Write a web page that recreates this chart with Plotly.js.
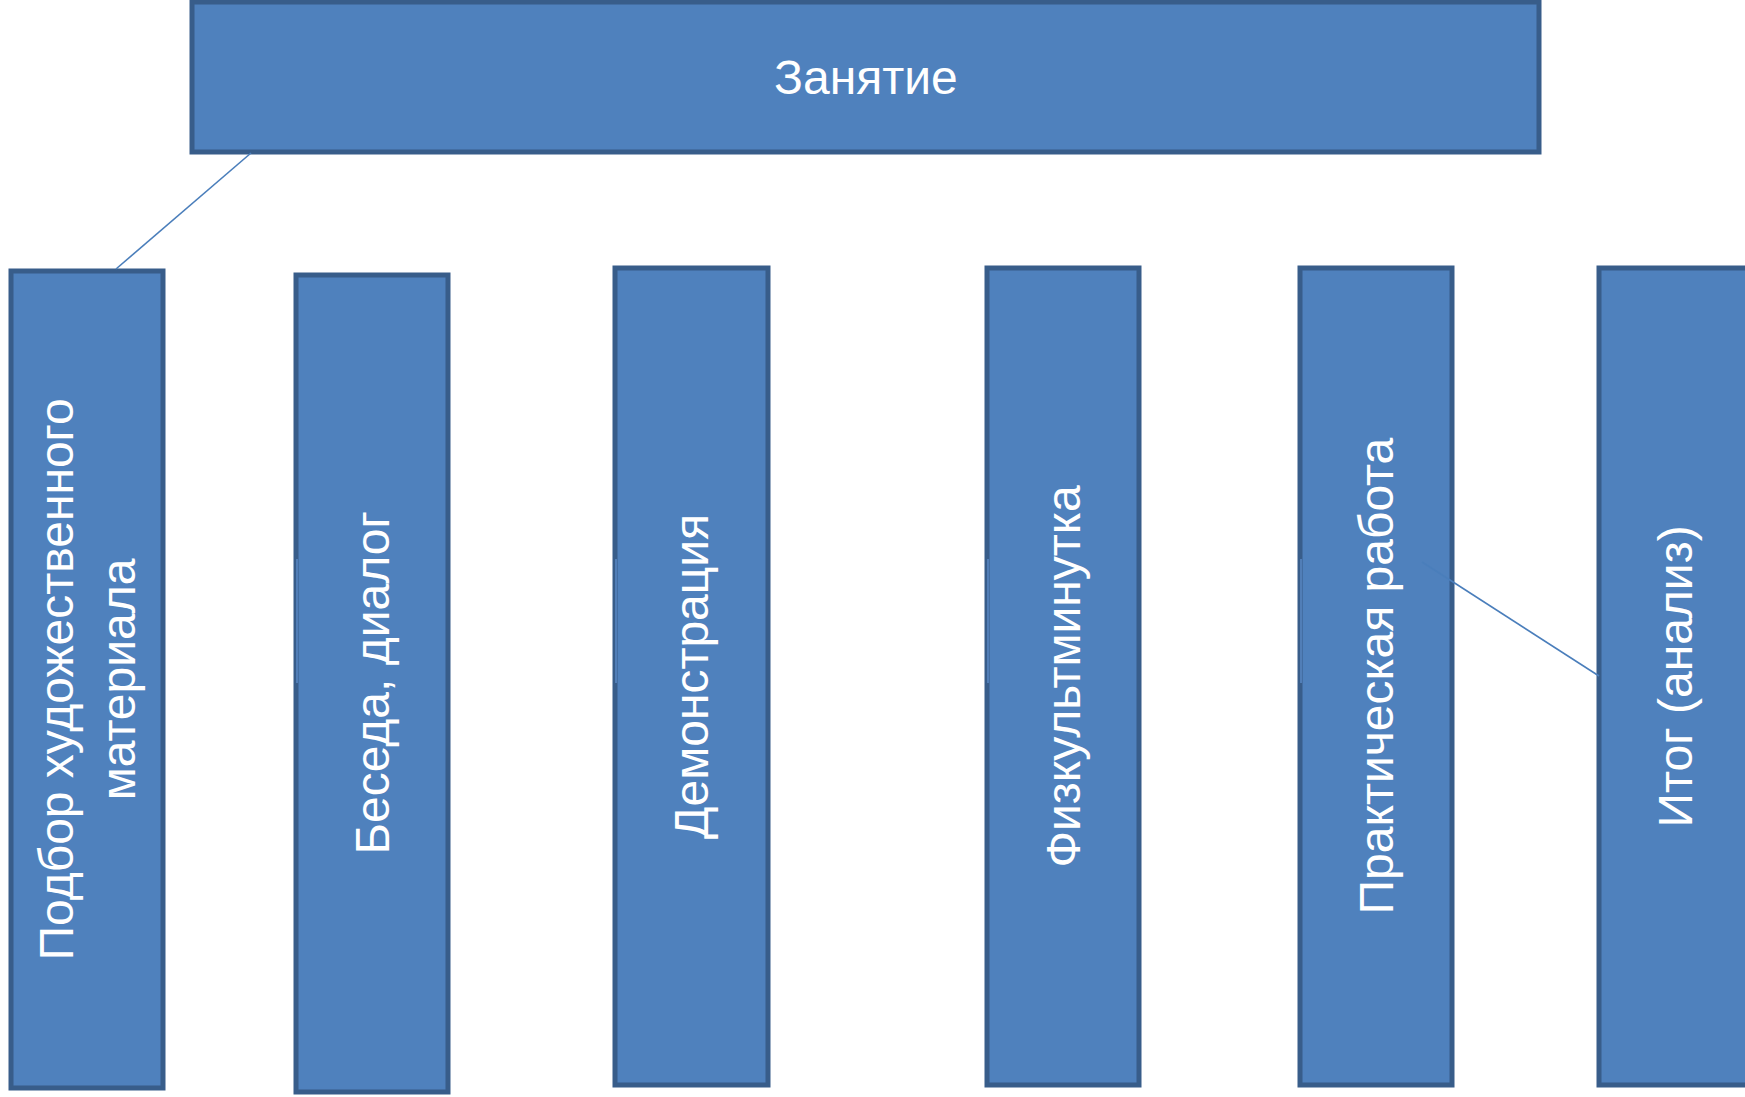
<!DOCTYPE html>
<html>
<head>
<meta charset="utf-8">
<script src="https://cdn.plot.ly/plotly-3.0.1.min.js"></script>
<style>
  html, body { margin: 0; padding: 0; background: #ffffff; }
  #chart { width: 1745px; height: 1097px; }
</style>
</head>
<body>
<div id="chart"></div>
<script>
// Diagram data (pixel-space units of the 1745x1097 canvas)
const boxLabels = [
  "Занятие",
  "Подбор художественного<br>материала",
  "Беседа, диалог",
  "Демонстрация",
  "Физкультминутка",
  "Практическая работа",
  "Итог (анализ)"
];
const boxLeft   = [192, 11, 296, 615, 987, 1300, 1599];
const boxRight  = [1539, 163, 448, 768, 1139, 1452, 1751];
const boxTop    = [2, 271, 275, 268, 268, 268, 268];
const boxBottom = [152, 1088, 1092, 1085, 1085, 1085, 1085];
const textAngle = [0, -90, -90, -90, -90, -90, -90];

const connector1X = [251, 116];
const connector1Y = [153, 269];
const connector2X = [1422, 1599];
const connector2Y = [562, 676];

// faint connector stubs on the left borders of the middle boxes
const stubX = [297, 297, null, 616, 616, null, 988, 988, null, 1301, 1301];
const stubY = [559, 683, null, 559, 683, null, 559, 683, null, 559, 683];

const centersX = boxLeft.map((l, i) => (l + boxRight[i]) / 2);
const centersY = boxTop.map((t, i) => (t + boxBottom[i]) / 2);
const widths = boxLeft.map((l, i) => boxRight[i] - l);
const heights = boxTop.map((t, i) => boxBottom[i] - t);

const fillColor = '#4f81bd';
const borderColor = '#385d8a';
const lineColor = '#4a7ebb';

const traces = [
  {
    type: 'bar',
    x: centersX,
    y: heights,
    base: boxTop,
    width: widths,
    marker: { color: fillColor, line: { color: borderColor, width: 5 } },
    hoverinfo: 'skip',
    showlegend: false,
    cliponaxis: true
  },
  {
    type: 'scatter', mode: 'lines',
    x: stubX, y: stubY,
    line: { color: '#5a8ac6', width: 1.5 },
    connectgaps: false,
    hoverinfo: 'skip', showlegend: false
  },
  {
    type: 'scatter', mode: 'lines',
    x: connector1X, y: connector1Y,
    line: { color: lineColor, width: 1.6 },
    hoverinfo: 'skip', showlegend: false
  },
  {
    type: 'scatter', mode: 'lines',
    x: connector2X, y: connector2Y,
    line: { color: lineColor, width: 1.6 },
    hoverinfo: 'skip', showlegend: false
  }
];

const annotations = boxLabels.map((lab, i) => ({
  x: centersX[i],
  y: centersY[i],
  xref: 'x', yref: 'y',
  text: lab,
  showarrow: false,
  textangle: textAngle[i],
  font: { family: 'Liberation Sans, Arial, sans-serif', size: 48, color: '#ffffff' },
  align: 'center',
  xanchor: 'center', yanchor: 'middle'
}));

const layout = {
  width: 1745,
  height: 1097,
  margin: { l: 0, r: 0, t: 0, b: 0, pad: 0 },
  paper_bgcolor: '#ffffff',
  plot_bgcolor: '#ffffff',
  xaxis: { range: [0, 1745], visible: false, fixedrange: true },
  yaxis: { range: [1097, 0], visible: false, fixedrange: true },
  bargap: 0,
  annotations: annotations,
  showlegend: false
};

Plotly.newPlot('chart', traces, layout, { displayModeBar: false, staticPlot: true });
</script>
</body>
</html>
